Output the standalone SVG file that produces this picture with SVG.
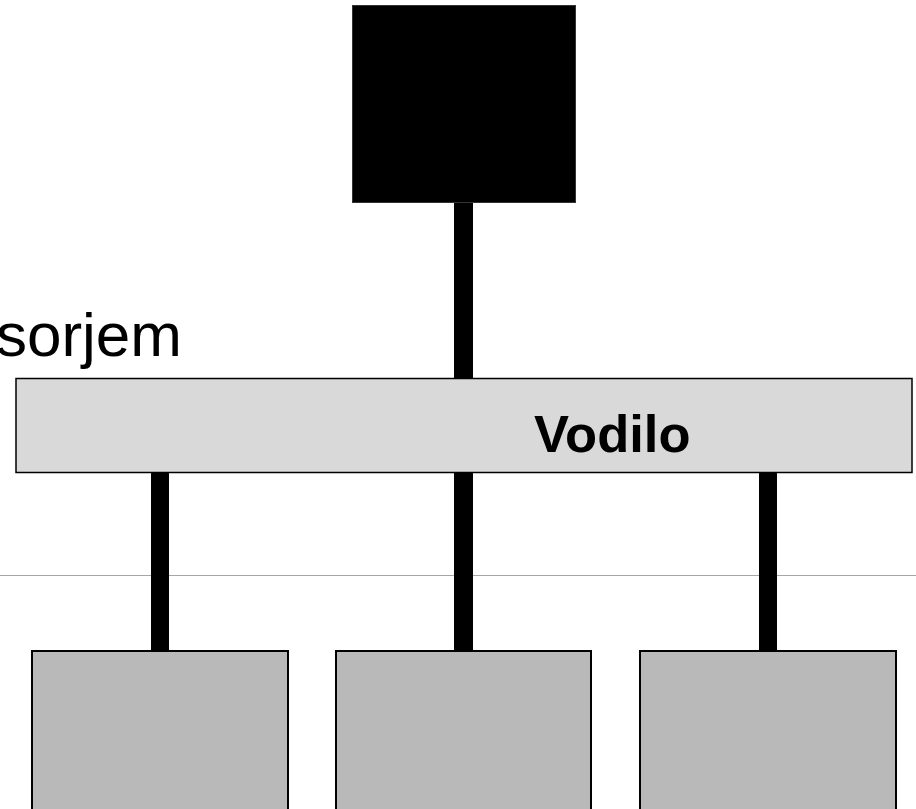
<svg xmlns="http://www.w3.org/2000/svg" width="916" height="809" viewBox="0 0 916 809">
  <style>
    .link { fill: #000; }
    .bus { fill: #d9d9d9; stroke: #000; stroke-width: 1.5; }
    .unit { fill: #b9b9b9; stroke: #000; stroke-width: 2; }
    .cpu { fill: #000; stroke: #333; stroke-width: 1; }
    .lbl { font-family: "Liberation Sans", Arial, sans-serif; fill: #000; }
  </style>
  <rect width="916" height="809" fill="#fff"/>
  <!-- thin divider line -->
  <line x1="0" y1="575.5" x2="916" y2="575.5" stroke="#a6a6a6" stroke-width="1.2"/>
  <text class="lbl" x="182" y="356" font-size="62" text-anchor="end">sorjem</text>
  <g id="connectors">
    <rect class="link" x="454" y="202" width="19" height="177"/>
    <rect class="link" x="151" y="472" width="18" height="179"/>
    <rect class="link" x="454" y="472" width="19" height="179"/>
    <rect class="link" x="759" y="472" width="18" height="179"/>
  </g>
  <g id="cpu">
    <rect class="cpu" x="352.5" y="5.5" width="223" height="197"/>
  </g>
  <g id="bus">
    <rect class="bus" x="16" y="378.5" width="896" height="94"/>
    <text class="lbl" x="534" y="452" font-size="52.5" font-weight="bold">Vodilo</text>
  </g>
  <g id="unit1">
    <rect class="unit" x="32" y="651" width="256" height="170"/>
  </g>
  <g id="unit2">
    <rect class="unit" x="336" y="651" width="255" height="170"/>
  </g>
  <g id="unit3">
    <rect class="unit" x="640" y="651" width="256" height="170"/>
  </g>
</svg>
